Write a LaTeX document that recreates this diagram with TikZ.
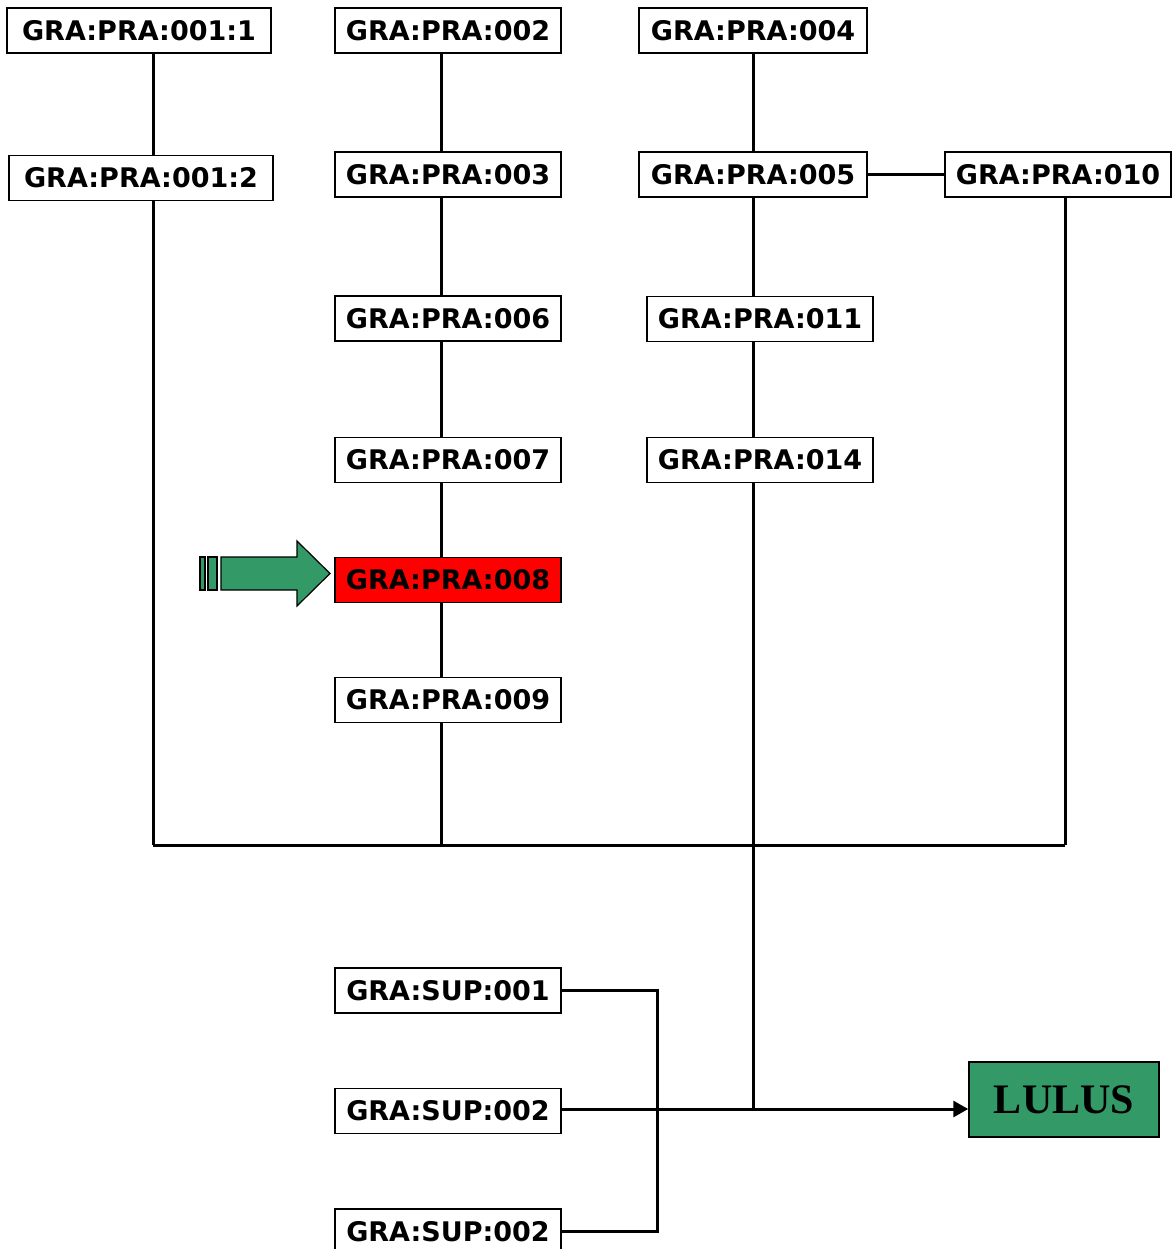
\documentclass[tikz,border=0pt]{standalone}
\usepackage{fontspec}
\setmainfont{DejaVu Sans}
\newfontfamily\serifbold{Liberation Serif}
\usetikzlibrary{arrows.meta}
\definecolor{lgreen}{HTML}{339966}
\tikzset{
  box/.style={draw=black, line width=1.5pt, fill=white, minimum height=45pt, inner sep=0pt,
    font=\fontsize{27}{30}\selectfont\bfseries, anchor=center},
  wide/.style={minimum width=226pt},
  conn/.style={line width=3pt}
}
\begin{document}
\begin{tikzpicture}[x=1pt,y=-1pt]
\useasboundingbox (0,0) rectangle (1172,1249);
% coordinates for vertical lines
\coordinate (c1) at (153,0);
\coordinate (c2) at (441,0);
\coordinate (c3) at (753,0);
\coordinate (c4) at (1065,0);
\coordinate (bl) at (153,845);
\coordinate (bm) at (441,845);
\coordinate (bc) at (753,845);
\coordinate (br) at (1065,845);
\coordinate (jn) at (753,1109);
\coordinate (sx) at (657,0);
% nodes
\node[box, minimum width=264pt] (p11) at (139,30.5) {GRA:PRA:001:1};
\node[box, minimum width=264pt] (p12) at (141,178) {GRA:PRA:001:2};
\node[box,wide] (p02) at (448,30.5) {GRA:PRA:002};
\node[box,wide] (p03) at (448,174.5) {GRA:PRA:003};
\node[box,wide] (p06) at (448,318.5) {GRA:PRA:006};
\node[box,wide] (p07) at (448,460) {GRA:PRA:007};
\node[box,wide,fill=red] (p08) at (448,580) {GRA:PRA:008};
\node[box,wide] (p09) at (448,700) {GRA:PRA:009};
\node[box, minimum width=228pt] (p04) at (753,30.5) {GRA:PRA:004};
\node[box, minimum width=228pt] (p05) at (753,174.5) {GRA:PRA:005};
\node[box, minimum width=226pt] (p10) at (1058,174.5) {GRA:PRA:010};
\node[box,wide] (p11b) at (760,319) {GRA:PRA:011};
\node[box,wide] (p14) at (760,460) {GRA:PRA:014};
\node[box,wide] (s01) at (448,990.5) {GRA:SUP:001};
\node[box,wide] (s02) at (448,1111) {GRA:SUP:002};
\node[box,wide] (s03) at (448,1231.5) {GRA:SUP:002};
\node[box, fill=lgreen, minimum width=190pt, minimum height=75pt, font=\fontsize{42}{46}\selectfont\serifbold\bfseries] (lulus) at (1064,1099.5) {LULUS};
% connectors
\draw[conn] (p11.south -| c1) -- (p12.north -| c1);
\draw[conn] (p12.south -| c1) -- (bl);
\draw[conn] (p02.south -| c2) -- (p03.north -| c2);
\draw[conn] (p03.south -| c2) -- (p06.north -| c2);
\draw[conn] (p06.south -| c2) -- (p07.north -| c2);
\draw[conn] (p07.south -| c2) -- (p08.north -| c2);
\draw[conn] (p08.south -| c2) -- (p09.north -| c2);
\draw[conn] (p09.south -| c2) -- (bm);
\draw[conn] (p04) -- (p05);
\draw[conn] (p05.south) -- (p11b.north -| c3);
\draw[conn] (p11b.south -| c3) -- (p14.north -| c3);
\draw[conn] (p14.south -| c3) -- (bc) -- (jn);
\draw[conn] (p05.east) -- (p10.west);
\draw[conn] (p10.south -| c4) -- (br);
\draw[conn] (bl) -- (br);
\draw[conn] (s01.east) -- (s01.east -| sx) -- (s03.east -| sx) -- (s03.east);
\draw[conn, -{Triangle[length=15pt,width=16pt]}] (s02.east |- jn) -- (lulus.west |- jn);
% green arrow
\draw[line width=1.2pt, fill=lgreen] (200,557) rectangle (205,590);
\draw[line width=1.2pt, fill=lgreen] (208,557) rectangle (217,590);
\draw[line width=1.2pt, fill=lgreen] (221,557) -- (297,557) -- (297,541) -- (330,573.5) -- (297,606) -- (297,590) -- (221,590) -- cycle;
\end{tikzpicture}
\end{document}
